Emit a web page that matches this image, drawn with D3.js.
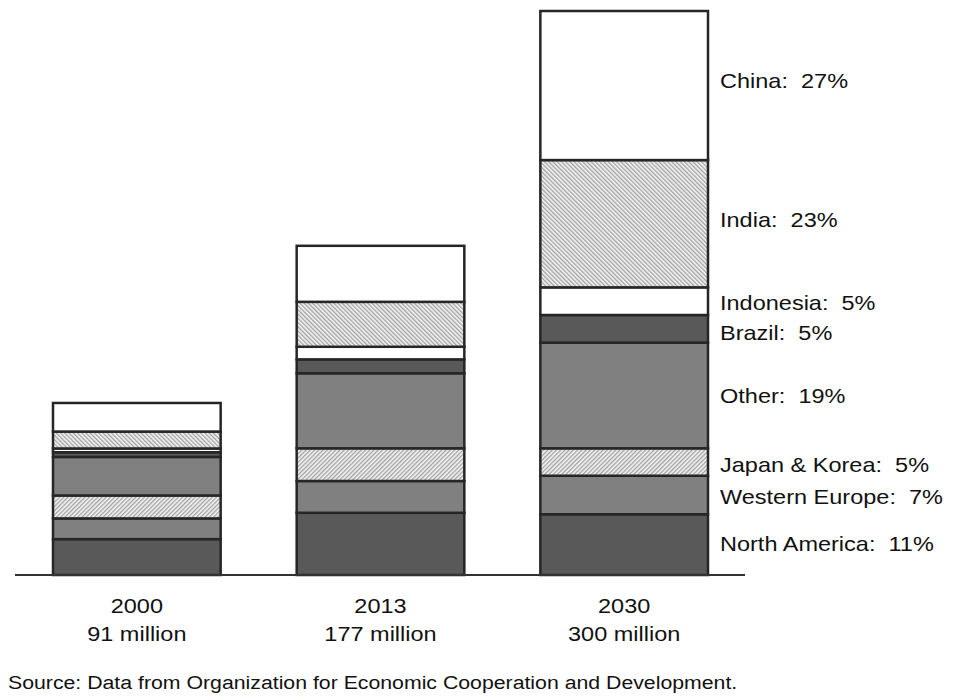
<!DOCTYPE html>
<html><head><meta charset="utf-8">
<script src="https://cdn.jsdelivr.net/npm/d3@7/dist/d3.min.js"></script>
<style>body{margin:0;background:#fff}svg{display:block}text{white-space:pre}</style>
</head><body><svg id="c" width="953" height="696"></svg>
<script>
const years = ["2000", "2013", "2030"];
const totals = ["91 million", "177 million", "300 million"];
const regions = ["North America", "Western Europe", "Japan & Korea", "Other", "Brazil", "Indonesia", "India", "China"];
const v2000 = [19.1, 11.0, 12.2, 20.5, 2.5, 2.0, 9.0, 15.2];
const v2013 = [33.1, 16.9, 17.4, 39.9, 7.4, 6.7, 23.9, 29.8];
const v2030 = [32.3, 20.5, 14.6, 56.2, 14.7, 14.7, 67.7, 79.3];
const shares2030 = ["11%", "7%", "5%", "19%", "5%", "5%", "23%", "27%"];
const fills = ["#595959", "#808080", "url(#hatchA)", "#808080", "#595959", "#ffffff", "url(#hatchB)", "#ffffff"];
const labelNudge = [-1, 1, 2, 0, 4, 1, -4, -5];

const svg = d3.select("#c");
const FONT = "'Liberation Sans', Arial, sans-serif";
const SX = 1.12;

const defs = svg.append("defs");
function hatch(id, angle) {
  const p = defs.append("pattern").attr("id", id).attr("patternUnits", "userSpaceOnUse")
    .attr("width", 3).attr("height", 3).attr("patternTransform", `rotate(${angle})`);
  p.append("rect").attr("width", 3).attr("height", 3).attr("fill", "#f4f4f4");
  p.append("rect").attr("width", 1.3).attr("height", 3).attr("fill", "#a0a0a0");
}
hatch("hatchA", 45);
hatch("hatchB", -45);

const x = d3.scaleBand().domain(years).range([53, 708]).paddingInner(0.312).paddingOuter(0);
const y = d3.scaleLinear().domain([0, 300]).range([575, 11]);

const data = [v2000, v2013, v2030];
const rows = years.map((yr, i) => {
  const o = { year: yr };
  regions.forEach((r, j) => o[r] = data[i][j]);
  return o;
});
const stack = d3.stack().keys(regions)(rows);

const g = svg.append("g");
stack.forEach((layer, j) => {
  g.selectAll(null).data(layer).enter().append("rect")
    .attr("x", d => x(d.data.year))
    .attr("width", x.bandwidth())
    .attr("y", d => y(d[1]))
    .attr("height", d => y(d[0]) - y(d[1]))
    .attr("fill", fills[j])
    .attr("stroke", "#262626")
    .attr("stroke-width", 2.5);
});

// baseline
svg.append("line").attr("x1", 15).attr("x2", 745).attr("y1", y(0)).attr("y2", y(0))
  .attr("stroke", "#333").attr("stroke-width", 1.8);

function txt(xp, yp, s, size, anchor) {
  svg.append("g").attr("transform", `translate(${xp},${yp}) scale(${SX},1)`)
    .append("text").attr("text-anchor", anchor || "start")
    .attr("font-family", FONT).attr("font-size", size).attr("fill", "#111").text(s);
}

// right labels for 2030
const last = stack.map(l => l[2]);
regions.forEach((r, j) => {
  const d = last[j];
  const mid = (y(d[0]) + y(d[1])) / 2 + labelNudge[j];
  txt(x("2030") + x.bandwidth() + 12, mid + 7.5, `${r}:  ${shares2030[j]}`, 21);
});

// x labels
years.forEach((yr, i) => {
  const cx = x(yr) + x.bandwidth() / 2;
  txt(cx, 613, yr, 21, "middle");
  txt(cx, 641, totals[i], 21, "middle");
});

txt(8, 689, "Source: Data from Organization for Economic Cooperation and Development.", 19);
</script></body></html>
